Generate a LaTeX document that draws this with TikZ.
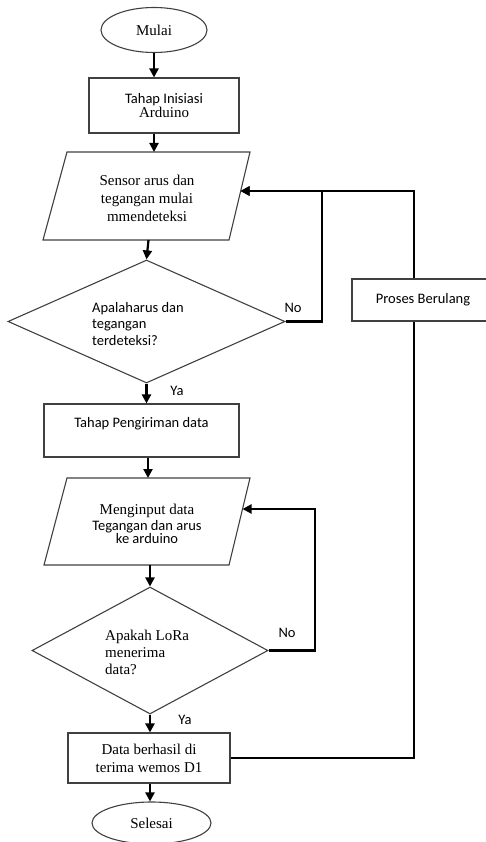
\documentclass[tikz,border=0pt]{standalone}
\usepackage{fontspec}
\setmainfont{Liberation Serif}
\newfontfamily\sansf{Carlito}
\usetikzlibrary{arrows.meta,shapes.geometric,calc}
\begin{document}
\begin{tikzpicture}[x=1pt,y=-1pt,
  shapeline/.style={draw=black!75,line width=1.1pt},
  conn/.style={draw=black,line width=2.2pt},
  arr/.style={conn,-{Triangle[length=9pt,width=9pt]}},
  serif/.style={font=\fontsize{15}{18}\selectfont},
  sans/.style={font=\sansf\fontsize{14.5}{17}\selectfont},
  term/.style={shapeline,ellipse,inner sep=0pt,serif},
  proc/.style={shapeline,rectangle,inner sep=0pt,align=center},
  decision/.style={shapeline,diamond,inner sep=0pt},
  txt/.style={inner sep=0pt,align=center},
  lbl/.style={sans,inner sep=0pt}
]
\useasboundingbox (0,0) rectangle (486,842);
\clip (0,0) rectangle (486,842);

% start
\node[term,minimum width=106pt,minimum height=45pt] (mulai) at (154,30) {Mulai};

% init
\node[proc,minimum width=150pt,minimum height=55pt] (init) at (164,105.5)
  {{\sansf\fontsize{14.5}{19}\selectfont Tahap Inisiasi}\\[1pt]{\fontsize{15}{18}\selectfont Arduino}};

% parallelogram 1
\coordinate (p1a) at (67,152);
\coordinate (p1b) at (250,152);
\coordinate (p1c) at (229,240);
\coordinate (p1d) at (43,240);
\draw[shapeline] (p1a) -- (p1b) -- (p1c) -- (p1d) -- cycle;
\node[txt,serif] (p1) at (147,198) {Sensor arus dan\\tegangan mulai\\mmendeteksi};
\coordinate (p1top) at (154,152);
\coordinate (p1bot) at (148.5,240);
\coordinate (p1r) at (240.5,191);

% decision 1
\node[decision,minimum width=277pt,minimum height=123pt] (d1) at (146.5,321.5) {};
\node[txt,sans,align=left,anchor=west,font=\sansf\fontsize{14.5}{16.5}\selectfont] (d1t) at (92,324) {Apalaharus dan\\tegangan\\terdeteksi?};
\node[lbl] (no1) at (293,308) {No};
\node[lbl] (ya1) at (177,391) {Ya};

% process 2
\node[proc,minimum width=195pt,minimum height=53pt,sans] (kirim) at (141.5,430.5)
  {Tahap Pengiriman data\\[0pt]\mbox{}};

% parallelogram 2
\coordinate (p2a) at (67,478);
\coordinate (p2b) at (250,478);
\coordinate (p2c) at (229,565);
\coordinate (p2d) at (44,565);
\draw[shapeline] (p2a) -- (p2b) -- (p2c) -- (p2d) -- cycle;
\node[txt] (p2) at (147,524)
  {{\fontsize{15}{18}\selectfont Menginput data}\\[1pt]{\sansf\fontsize{14.5}{18}\selectfont Tegangan dan arus}\\{\sansf\fontsize{14.5}{18}\selectfont ke arduino}};
\coordinate (p2top) at (148,478);
\coordinate (p2bot) at (150,565);
\coordinate (p2r) at (242.5,509);

% decision 2
\node[decision,minimum width=236pt,minimum height=127pt] (d2) at (150,650.5) {};
\node[txt,serif,align=left,anchor=west,font=\fontsize{15}{17}\selectfont] (d2t) at (105,652) {Apakah LoRa\\menerima\\data?};
\node[lbl] (no2) at (287,633) {No};
\node[lbl] (ya2) at (185,720) {Ya};

% data received
\node[proc,minimum width=162pt,minimum height=50pt,serif] (data) at (149,758)
  {Data berhasil di\\terima wemos D1};

% end
\node[term,minimum width=119pt,minimum height=42pt] (selesai) at (151.5,823) {Selesai};

% repeat process
\node[proc,minimum width=142pt,minimum height=42pt,sans] (proses) at (423,300) {Proses Berulang};
\coordinate (loopx) at (414,0);
\coordinate (no1x) at (322,0);
\coordinate (no2x) at (315,0);

% connectors
\draw[arr] (mulai.south) -- (init.north -| mulai.south);
\draw[arr] (init.south -| p1top) -- (p1top);
\draw[arr] (p1bot) -- (d1.north);
\draw[arr] (d1.south) -- (kirim.north -| d1.south);
\draw[arr] (kirim.south -| p2top) -- (p2top);
\draw[arr] (p2bot) -- (d2.north);
\draw[arr] (d2.south) -- (data.north -| d2.south);
\draw[arr] (data.south -| d2.south) -- (selesai.north -| d2.south);

\draw[arr] (d1.east) -- (d1.east -| no1x) -- (p1r -| no1x) -- (p1r);
\draw[arr] (d2.east) -- (d2.east -| no2x) -- (p2r -| no2x) -- (p2r);
\draw[conn] (data.east) -- (data.east -| loopx) -- (proses.south -| loopx);
\draw[arr] (proses.north -| loopx) -- (p1r -| loopx) -- (p1r);
\end{tikzpicture}
\end{document}
